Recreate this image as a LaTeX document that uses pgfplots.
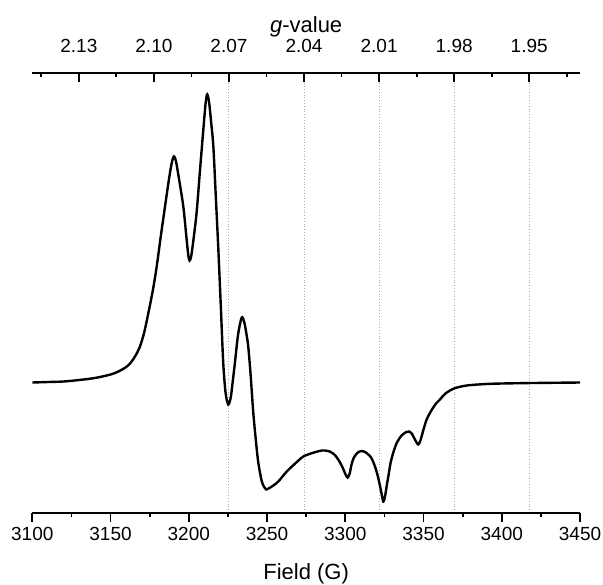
\documentclass[border=0pt]{standalone}
\usepackage{fontspec}
\setmainfont{Liberation Sans}
\usepackage{pgfplots}
\pgfplotsset{compat=1.18}

\pgfplotstableread{
field int
3100 0
3110 0.5
3120 1
3130 2.5
3140 4.5
3150 8
3155 11
3160 15.5
3163 20
3166 27
3168.8 36
3171.5 50
3174.1 69
3177 92
3179.5 116
3182 145
3184.8 176
3187.5 205
3189.3 221
3190.5 226
3191.7 222
3193.5 206
3196.5 176
3198.5 145
3199.7 127
3200.5 122
3201.5 126
3203 143
3205 170
3207.2 213
3209.3 253
3210.8 280
3211.8 288
3213 280
3214.3 260
3215.7 236
3217.2 188
3218.8 136
3220.5 75
3222 20
3223.5 -10
3225.2 -22
3226.8 -15
3228 0
3229.5 20
3231.5 48
3233.8 65
3235.5 60
3237 47
3238 36
3239.5 8
3241.2 -30
3243 -60
3244.4 -80
3246.5 -98
3248 -104
3249.5 -107
3251 -106
3254 -103
3257.2 -99
3262.6 -89
3268 -81
3273.2 -74
3280 -70
3285 -68
3287 -68
3290 -69
3293 -72
3295.5 -77
3298 -84
3300.2 -92
3301.5 -95
3302.8 -91
3304 -82
3305.5 -75
3308 -70
3310.5 -68.5
3312 -69
3314 -71
3316.5 -75
3319 -84
3321 -95
3322.8 -108
3324.3 -119
3325.5 -113
3326.5 -103
3327.5 -94
3329 -80
3330.7 -70
3333 -60
3336 -53
3339 -49.5
3340.9 -49
3342.5 -51
3344.5 -57
3346.6 -62
3348 -58
3350 -47
3352 -37
3355 -28
3358 -21
3360.5 -17
3364 -11
3369.5 -6
3377.6 -3
3390 -1.5
3400 -1
3420 -0.5
3450 0
}\epr

\begin{document}
\begin{tikzpicture}
\useasboundingbox (-16.15pt,-35.65pt) rectangle (285.35pt,256.35pt);

% top axis: g-value, with dotted guide lines
\begin{axis}[
  at={(0,0)}, anchor=south west,
  scale only axis, width=273.85pt, height=220pt,
  x dir=reverse,
  xmin=1.9297, xmax=2.1486,
  ymin=0, ymax=1,
  axis x line*=top, hide y axis,
  x axis line style={-, line width=0.9pt},
  tick align=inside,
  xtick={2.07,2.04,2.01,1.98,1.95},
  xticklabels={2.07,2.04,2.01,1.98,1.95},
  extra x ticks={2.13,2.10},
  extra x tick labels={2.13,2.10},
  extra x tick style={xmajorgrids=false},
  minor xtick={2.145,2.115,2.085,2.055,2.025,1.995,1.965,1.935},
  xmajorgrids,
  major grid style={densely dotted, gray!65, line width=0.5pt},
  major tick length=4.5pt, minor tick length=2.2pt,
  tick style={black, line width=0.9pt},
  ticklabel style={font=\fontsize{9.5}{10}\selectfont},
  xticklabel style={anchor=center, yshift=13.3pt},
  xlabel={\textit{g}-value},
  xlabel style={font=\fontsize{11}{12}\selectfont,
    at={(axis description cs:0.5,1)}, anchor=center, yshift=22.8pt},
]
\end{axis}

% bottom axis: field
\begin{axis}[
  at={(0,0)}, anchor=south west,
  scale only axis, width=273.85pt, height=220pt,
  xmin=3100, xmax=3450,
  ymin=-130.2, ymax=309.8,
  axis x line*=bottom, hide y axis,
  x axis line style={-, line width=0.9pt},
  tick align=outside,
  xtick={3100,3150,...,3450},
  minor x tick num=1,
  major tick length=4.5pt, minor tick length=2.2pt,
  tick style={black, line width=0.9pt},
  /pgf/number format/set thousands separator={},
  /pgf/number format/assume math mode=true,
  ticklabel style={font=\fontsize{9.5}{10}\selectfont},
  xticklabel style={anchor=center, yshift=-6.3pt},
  xlabel={Field (G)},
  xlabel style={font=\fontsize{11}{12}\selectfont,
    at={(axis description cs:0.5,0)}, anchor=center, yshift=-30.5pt},
]
\addplot[black, line width=1.2pt, smooth, tension=0.5] table[x=field, y=int] {\epr};
\end{axis}
\end{tikzpicture}
\end{document}
